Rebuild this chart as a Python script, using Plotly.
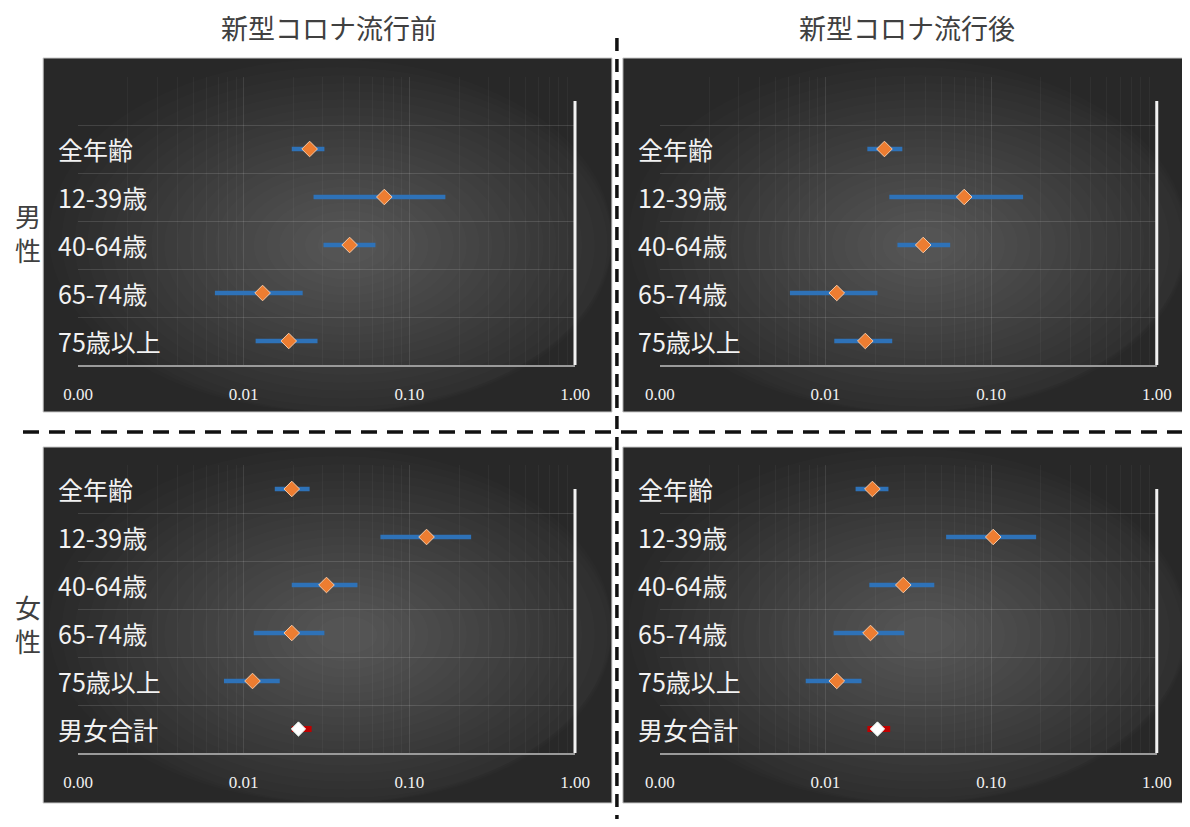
import plotly.graph_objects as go

# Page geometry: body margin of 8px; the photographed page maps slightly
# compressed horizontally, so reference pixel positions are converted.
OFF = 8
SX, TX = 0.977, 14.0
W, H = 1196, 827 - 2 * OFF

# ---------------- data ----------------
male_categories = ["全年齢", "12-39歳", "40-64歳", "65-74歳", "75歳以上"]
female_categories = ["全年齢", "12-39歳", "40-64歳", "65-74歳", "75歳以上"]
total_category = "男女合計"

male_before = [0.0250, 0.0706, 0.0436, 0.0130, 0.0187]
male_before_lo = [0.0195, 0.0264, 0.0303, 0.0067, 0.0118]
male_before_hi = [0.0307, 0.1650, 0.0624, 0.0227, 0.0279]

male_after = [0.0227, 0.0688, 0.0389, 0.0117, 0.0174]
male_after_lo = [0.0179, 0.0243, 0.0272, 0.0061, 0.0113]
male_after_hi = [0.0291, 0.1560, 0.0566, 0.0206, 0.0253]

female_before = [0.0195, 0.1270, 0.0316, 0.0195, 0.0113]
female_before_lo = [0.0154, 0.0669, 0.0195, 0.0115, 0.0076]
female_before_hi = [0.0250, 0.2360, 0.0486, 0.0307, 0.0165]

female_after = [0.0192, 0.1030, 0.0295, 0.0187, 0.0117]
female_after_lo = [0.0152, 0.0535, 0.0184, 0.0112, 0.0076]
female_after_hi = [0.0240, 0.1870, 0.0454, 0.0299, 0.0165]

total_before = [0.0214]
total_before_lo = [0.0195]
total_before_hi = [0.0257]
total_after = [0.0206]
total_after_lo = [0.0179]
total_after_hi = [0.0246]

x_tickvals = [0.001, 0.01, 0.1, 1.0]
x_ticktext = ["0.00", "0.01", "0.10", "1.00"]
col_titles = ["新型コロナ流行前", "新型コロナ流行後"]
row_titles = [["男", "性"], ["女", "性"]]

# ---------------- helpers (reference pixel -> paper) ----------------
def px(x):
    page = (x - TX) / SX
    return min(1.0, max(0.0, (page - OFF) / W))

def py(y):
    return 1 - (y - OFF) / H

JP = "Noto Sans CJK JP"
ORANGE = "#ed7d31"
BLUE = "#2e72b8"

fig = go.Figure()

panels = [
    dict(rect=(42, 58, 612, 412), xd=(77, 575), yd=(77, 365), lab_x=55),
    dict(rect=(623, 58, 1188, 412), xd=(660, 1158), yd=(77, 365), lab_x=636),
    dict(rect=(42, 447, 612, 803), xd=(77, 575), yd=(465, 753), lab_x=55),
    dict(rect=(623, 447, 1188, 803), xd=(660, 1158), yd=(465, 753), lab_x=636),
]

shapes = []
annotations = []

# backgrounds with radial-like gradient
for p in panels:
    x0, y0, x1, y1 = p["rect"]
    shapes.append(dict(type="rect", xref="paper", yref="paper",
                       x0=px(x0), x1=px(x1), y0=py(y1), y1=py(y0),
                       fillcolor="#282828", line=dict(color="#c8c8c8", width=1),
                       layer="below"))
    cx, cy = (x0 + x1) / 2 + 20, (y0 + y1) / 2 + 10
    hw, hh = (x1 - x0) / 2, (y1 - y0) / 2
    n = 22
    for i in range(n):
        k = 1.05 - i * 0.045
        shapes.append(dict(type="circle", xref="paper", yref="paper",
                           x0=px(max(x0, cx - hw * k)), x1=px(min(x1, cx + hw * k)),
                           y0=py(min(y1, cy + hh * k)), y1=py(max(y0, cy - hh * k)),
                           fillcolor="rgba(255,255,255,0.0125)", line=dict(width=0),
                           layer="below"))

series = [
    (male_before, male_before_lo, male_before_hi, None, male_categories),
    (male_after, male_after_lo, male_after_hi, None, male_categories),
    (female_before, female_before_lo, female_before_hi,
     (total_before, total_before_lo, total_before_hi), female_categories),
    (female_after, female_after_lo, female_after_hi,
     (total_after, total_after_lo, total_after_hi), female_categories),
]

minor_vals = []
for dec in [0.001, 0.01, 0.1]:
    for m in range(2, 10):
        minor_vals.append(dec * m)

for i, (p, s) in enumerate(zip(panels, series)):
    idx = "" if i == 0 else str(i + 1)
    xa, ya = "x" + idx, "y" + idx
    vals, lo, hi, tot, cats = s
    top = 6 if tot is not None else 5
    ys = [top - j for j in range(len(cats))]
    fig.add_trace(go.Scatter(
        x=vals, y=ys, mode="markers", xaxis=xa, yaxis=ya, showlegend=False,
        marker=dict(symbol="diamond", size=12, color=ORANGE,
                    line=dict(color="#f8c9a4", width=1)),
        error_x=dict(type="data", symmetric=False,
                     array=[h - v for h, v in zip(hi, vals)],
                     arrayminus=[v - l for v, l in zip(vals, lo)],
                     color=BLUE, thickness=4.5, width=0),
    ))
    labels = list(cats)
    if tot is not None:
        tv, tl, th = tot
        fig.add_trace(go.Scatter(
            x=tv, y=[1], mode="markers", xaxis=xa, yaxis=ya, showlegend=False,
            marker=dict(symbol="diamond", size=11, color="#ffffff",
                        line=dict(color="#e8f5ee", width=1)),
            error_x=dict(type="data", symmetric=False,
                         array=[h - v for h, v in zip(th, tv)],
                         arrayminus=[v - l for v, l in zip(tv, tl)],
                         color="#c00000", thickness=6, width=0),
        ))
        labels.append(total_category)
        ys = ys + [1]
    for lab, yv in zip(labels, ys):
        annotations.append(dict(text=lab, xref="paper", x=px(p["lab_x"]), xanchor="left",
                                yref=ya, y=yv, yanchor="middle", showarrow=False,
                                font=dict(family=JP, size=25, color="#f2f2f2")))
    xd, yd = p["xd"], p["yd"]
    fig.update_layout(**{
        "xaxis" + idx: dict(
            domain=[px(xd[0]), px(xd[1])], type="log", range=[-3, 0],
            anchor=ya, tickvals=x_tickvals, ticktext=x_ticktext,
            tickfont=dict(family="Liberation Serif", size=17, color="#f0f0f0"),
            ticks="", ticklabelstandoff=13,
            showgrid=True, gridcolor="rgba(255,255,255,0.10)", gridwidth=1,
            minor=dict(tickvals=minor_vals, showgrid=True,
                       gridcolor="rgba(255,255,255,0.04)", gridwidth=1),
            showline=True, linecolor="#9a9a9a", linewidth=2,
            zeroline=False, fixedrange=True,
        ),
        "yaxis" + idx: dict(
            domain=[py(yd[1]), py(yd[0])], range=[0.5, 6.5], anchor=xa,
            tickvals=[0.5, 1.5, 2.5, 3.5, 4.5, 5.5, 6.5], showticklabels=False,
            ticks="", showgrid=True, gridcolor="rgba(255,255,255,0.13)", gridwidth=1,
            zeroline=False, showline=False, fixedrange=True,
        ),
    })
    # white vertical axis line at x = 1.00
    shapes.append(dict(type="line", xref=xa + " domain", yref=ya,
                       x0=1, x1=1, y0=0.5, y1=6.0,
                       line=dict(color="#f2f2f2", width=3), layer="above"))

# column titles
for t, cx in zip(col_titles, [328, 908]):
    annotations.append(dict(text=t, xref="paper", yref="paper", x=px(cx), y=py(27),
                            xanchor="center", yanchor="middle", showarrow=False,
                            font=dict(family=JP, size=27, color="#404040")))
# row titles (vertical, one character per annotation)
for chars, cy in zip(row_titles, [215, 606]):
    for j, ch in enumerate(chars):
        annotations.append(dict(text=ch, xref="paper", yref="paper", x=px(27),
                                y=py(cy + j * 34), xanchor="center", yanchor="middle",
                                showarrow=False,
                                font=dict(family=JP, size=26, color="#404040")))

# dashed separators
shapes.append(dict(type="line", xref="paper", yref="paper",
                   x0=0, x1=1, y0=py(432), y1=py(432),
                   line=dict(color="#111111", width=3.5, dash="16px,10px"), layer="above"))
shapes.append(dict(type="line", xref="paper", yref="paper",
                   x0=px(617), x1=px(617), y0=py(38), y1=0,
                   line=dict(color="#111111", width=3.5, dash="13px,8px"), layer="above"))

fig.update_layout(
    width=W, height=H, margin=dict(l=0, r=0, t=0, b=0),
    paper_bgcolor="#ffffff", plot_bgcolor="rgba(0,0,0,0)",
    shapes=shapes, annotations=annotations, showlegend=False,
)

fig.write_html("out.html")
